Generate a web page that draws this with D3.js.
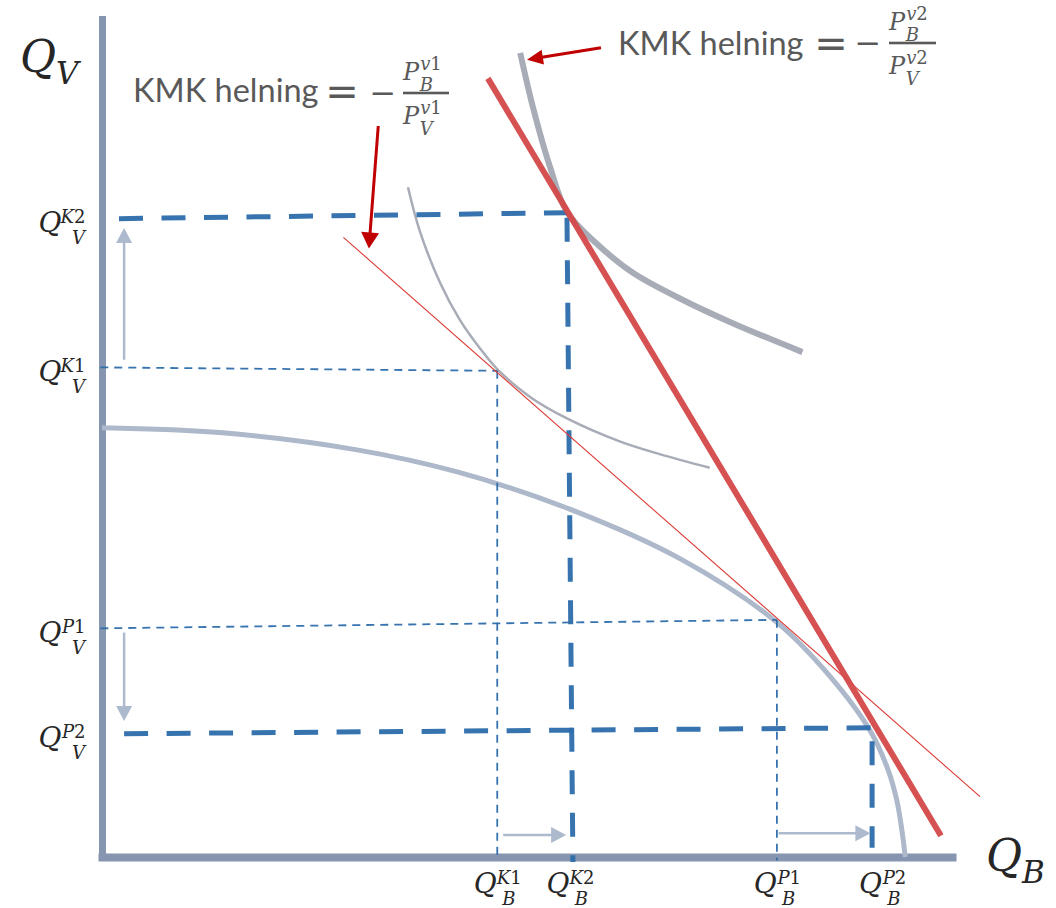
<!DOCTYPE html>
<html><head><meta charset="utf-8">
<script src="https://cdn.jsdelivr.net/npm/d3@7"></script>
<style>body{margin:0;background:#fff}svg{display:block}</style>
</head><body>
<svg id="c" width="1056" height="908"></svg>
<script>
// ---------- data (chart units) ----------
const ppfX = [0, 14.2, 30.0, 41.8, 55.1, 68.0, 79.4, 85.6, 90.4, 92.5, 93.5, 94.1, 94.5];
const ppfY = [50.5, 49.9, 47.9, 45.3, 40.9, 35.1, 27.6, 21.3, 14.8, 10.2, 6.7, 3.2, 0];
const ic1X = [36.0, 37.4, 39.8, 42.1, 44.5, 46.5, 50.4, 54.7, 60.9, 65.6, 71.5];
const ic1Y = [78.8, 73.6, 67.5, 63.2, 59.8, 57.4, 54.1, 51.6, 48.9, 47.4, 45.8];
const ic2X = [49.2, 50.7, 52.7, 54.7, 58.6, 62.5, 68.4, 74.2, 82.4];
const ic2Y = [94.6, 88.2, 81.2, 75.9, 71.8, 68.7, 65.5, 62.8, 59.4];
const price1X = [28.4, 103.3], price1Y = [72.9, 7.1];
const price2X = [45.4, 98.7], price2Y = [91.6, 2.5];
const pointNames = ["K1", "K2", "P1", "P2"];
const pointX = [46.5, 54.7, 79.4, 90.6];
const pointY = [57.2, 75.8, 27.9, 15.2];
const leftX = [-0.2, 2.0, -0.2, 2.6];
const leftY = [57.6, 75.1, 26.9, 14.5];
const bottomX = [46.5, 55.4, 79.4, 90.6];
const bottomY = [-0.4, -0.6, -0.4, 1.1];
const shiftFromX = [2.6, 2.6, 47.2, 79.6], shiftFromY = [58.5, 26.4, 2.6, 2.8];
const shiftToX = [2.6, 2.6, 54.6, 90.4], shiftToY = [74.0, 16.0, 2.6, 2.8];
const noteFromX = [32.5, 58.7], noteFromY = [86.0, 95.2];
const noteToX = [31.4, 50.0], noteToY = [71.6, 93.8];

// ---------- setup ----------
const svg = d3.select("#c");
const x = d3.scaleLinear().domain([0, 100]).range([102, 952]);
const y = d3.scaleLinear().domain([0, 98.6]).range([857, 18.9]);
const zip = (a, b) => a.map((v, i) => [v, b[i]]);
const line = d3.line().x(d => x(d[0])).y(d => y(d[1]));
const curve = d3.line().x(d => x(d[0])).y(d => y(d[1])).curve(d3.curveCatmullRom.alpha(0.5));

const MATH = "'DejaVu Serif', 'Liberation Serif', serif";
const TEXTF = "Lato, 'Open Sans', sans-serif";
const AXIS = "#8696b0", PPF = "#adb8cb", IC = "#a8acb6", BLUE = "#2c6dab",
      RED = "#d44848", DRED = "#c00000", GREYA = "#adb9cc", TXT = "#595959", INK = "#262626";

// math label: base letter, superscript and subscript stacked to its right
function scriptText(g, str, size, x0, y0, color) {
  const t = g.append("text").attr("font-family", MATH).attr("font-size", size)
    .attr("fill", color).attr("x", x0).attr("y", y0);
  for (const ch of str) {
    t.append("tspan").attr("font-style", /[0-9]/.test(ch) ? "normal" : "italic").text(ch);
  }
  return t;
}
function mathLabel(parent, base, sub, sup, s) {
  const g = parent.append("g");
  const col = s.color || INK;
  const t = g.append("text").attr("font-family", MATH).attr("font-style", "italic")
    .attr("font-size", s.base).attr("fill", col).text(base);
  const w = t.node().getComputedTextLength();
  if (sup) scriptText(g, sup, s.script, w + s.supDx, -s.rise, col);
  if (sub) scriptText(g, sub, s.subSize || s.script, w + s.subDx, s.drop, col);
  return g;
}

// ---------- axes ----------
const tickStyle = {base: 28, script: 18, rise: 9, drop: 12, supDx: 1, subDx: 0.5};
const gx = svg.append("g").attr("transform", "translate(0,857)")
  .call(d3.axisBottom(x).tickValues(bottomX).tickSize(0).tickFormat(() => ""));
gx.select(".domain").attr("stroke", AXIS).attr("stroke-width", 8).attr("stroke-linecap", "square");
gx.selectAll(".tick text").remove();
gx.selectAll(".tick").each(function(d, i) {
  const lg = mathLabel(d3.select(this), "Q", "B", pointNames[i], tickStyle);
  const bb = lg.node().getBBox();
  const nudge = pointNames[i] === "P2" ? 10 : (pointNames[i] === "K2" ? -3 : 0);
  lg.attr("transform", `translate(${-(bb.x + bb.width / 2) + nudge},36)`);
});

const gy = svg.append("g").attr("transform", "translate(102,0)")
  .call(d3.axisLeft(y).tickValues(leftY).tickSize(0).tickFormat(() => ""));
gy.select(".domain").attr("stroke", AXIS).attr("stroke-width", 7).attr("stroke-linecap", "square");
gy.selectAll(".tick text").remove();
gy.selectAll(".tick").each(function(d, i) {
  const lg = mathLabel(d3.select(this), "Q", "V", pointNames[i], tickStyle);
  const bb = lg.node().getBBox();
  lg.attr("transform", `translate(${-15 - (bb.x + bb.width)},13)`);
});

// axis titles
const big = {base: 44, script: 30, rise: 0, drop: 12, supDx: 0, subDx: 0, subSize: 31};
mathLabel(svg, "Q", "V", null, big).attr("transform", "translate(20,72)");
mathLabel(svg, "Q", "B", null, big).attr("transform", "translate(986,871)");

// ---------- curves ----------
svg.append("path").attr("d", curve(zip(ppfX, ppfY))).attr("fill", "none")
  .attr("stroke", PPF).attr("stroke-width", 5);
svg.append("path").attr("d", curve(zip(ic1X, ic1Y))).attr("fill", "none")
  .attr("stroke", IC).attr("stroke-width", 2.5);
svg.append("path").attr("d", curve(zip(ic2X, ic2Y))).attr("fill", "none")
  .attr("stroke", IC).attr("stroke-width", 6);

// ---------- guides ----------
pointNames.forEach((n, i) => {
  const thick = n.endsWith("2");
  const w = thick ? 5 : 1.8, dash = thick ? "24 18.5" : "8 6";
  svg.append("path").attr("d", line([[leftX[i], leftY[i]], [pointX[i], pointY[i]]]))
    .attr("fill", "none").attr("stroke", BLUE).attr("stroke-width", w).attr("stroke-dasharray", dash)
    .attr("opacity", 0.95);
  svg.append("path").attr("d", line([[pointX[i], pointY[i]], [bottomX[i], bottomY[i]]]))
    .attr("fill", "none").attr("stroke", BLUE).attr("stroke-width", w).attr("stroke-dasharray", dash)
    .attr("stroke-dashoffset", n === "K2" ? 37.5 : (n === "P2" ? 29 : 0))
    .attr("opacity", 0.95);
});

// ---------- price lines ----------
svg.append("path").attr("d", line(zip(price1X, price1Y))).attr("stroke", "#dc3b36")
  .attr("stroke-width", 1.1).attr("fill", "none");
svg.append("path").attr("d", line(zip(price2X, price2Y))).attr("stroke", RED)
  .attr("stroke-width", 6).attr("fill", "none").attr("opacity", 0.95);

// ---------- arrows ----------
function arrow(x1, y1, x2, y2, color, sw, hl, hw) {
  const dx = x2 - x1, dy = y2 - y1, L = Math.hypot(dx, dy), ux = dx / L, uy = dy / L;
  const bx = x2 - ux * hl, by = y2 - uy * hl;
  svg.append("line").attr("x1", x1).attr("y1", y1).attr("x2", bx + ux).attr("y2", by + uy)
    .attr("stroke", color).attr("stroke-width", sw);
  svg.append("path").attr("d", `M${x2},${y2}L${bx - uy * hw / 2},${by + ux * hw / 2}L${bx + uy * hw / 2},${by - ux * hw / 2}Z`)
    .attr("fill", color);
}
shiftFromX.forEach((v, i) => arrow(x(v), y(shiftFromY[i]), x(shiftToX[i]), y(shiftToY[i]), GREYA, 2.5, 15, 16));
noteFromX.forEach((v, i) => arrow(x(v), y(noteFromY[i]), x(noteToX[i]), y(noteToY[i]), DRED, 3, 16, i === 0 ? 18 : 15));

// ---------- slope notes ----------
const fracStyle = {base: 24, script: 18, rise: 10.5, drop: 10.5, supDx: 1, subDx: 0.5, color: TXT};
function note(tx, ty, eqX, eqY, miX, miY, barX, barW, barY, idx) {
  svg.append("text").attr("x", tx).attr("y", ty).attr("font-family", TEXTF).attr("font-size", 32.5)
    .attr("fill", TXT).text("KMK helning");
  svg.append("text").attr("x", eqX).attr("y", eqY).attr("text-anchor", "middle")
    .attr("font-family", "'DejaVu Sans', sans-serif").attr("font-size", 40).attr("fill", TXT).text("=");
  svg.append("text").attr("x", miX).attr("y", miY).attr("text-anchor", "middle")
    .attr("font-family", "'DejaVu Sans', sans-serif").attr("font-size", 32).attr("fill", TXT).text("\u2212");
  svg.append("rect").attr("x", barX).attr("y", barY - 1.3).attr("width", barW).attr("height", 2.6).attr("fill", TXT);
  mathLabel(svg, "P", "B", "v" + idx, fracStyle).attr("transform", `translate(${barX},${barY - 13})`);
  mathLabel(svg, "P", "V", "v" + idx, fracStyle).attr("transform", `translate(${barX},${barY + 31})`);
}
note(133, 102, 342, 105, 383, 103.5, 403, 46, 93, 1);
note(618, 55, 831, 57, 868, 53.5, 889, 47, 43, 2);
</script>
</body></html>
